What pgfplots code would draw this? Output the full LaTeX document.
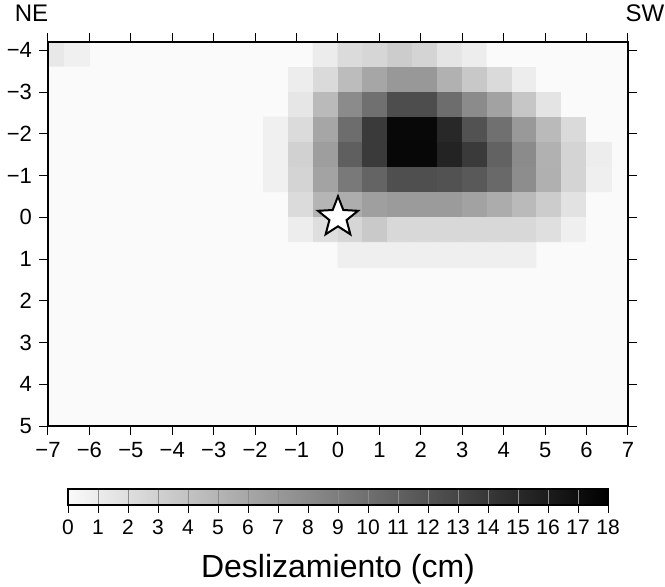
\documentclass[border=0pt]{standalone}
\usepackage{fontspec}
\setmainfont{Liberation Sans}
\usepackage{pgfplots}
\pgfplotsset{compat=1.18}
\usepackage{pgfplotstable}
\pgfplotsset{/pgf/number format/assume math mode=true}

\pgfdeclareplotmark{fivestar}{%
  \pgfpathmoveto{\pgfpointpolar{90}{\pgfplotmarksize}}%
  \pgfpathlineto{\pgfpointpolar{126}{0.43\pgfplotmarksize}}%
  \pgfpathlineto{\pgfpointpolar{162}{\pgfplotmarksize}}%
  \pgfpathlineto{\pgfpointpolar{198}{0.43\pgfplotmarksize}}%
  \pgfpathlineto{\pgfpointpolar{234}{\pgfplotmarksize}}%
  \pgfpathlineto{\pgfpointpolar{270}{0.43\pgfplotmarksize}}%
  \pgfpathlineto{\pgfpointpolar{306}{\pgfplotmarksize}}%
  \pgfpathlineto{\pgfpointpolar{342}{0.43\pgfplotmarksize}}%
  \pgfpathlineto{\pgfpointpolar{18}{\pgfplotmarksize}}%
  \pgfpathlineto{\pgfpointpolar{54}{0.43\pgfplotmarksize}}%
  \pgfpathclose
  \pgfusepathqfillstroke
}

% slip (cm) on 0.6 x 0.6 cells; x,y = cell centres
\pgfplotstableread{
x y z
-1.5 -3.9 0
-0.9 -3.9 0
-0.3 -3.9 1.0
0.3 -3.9 2.2
0.9 -3.9 2.6
1.5 -3.9 3.3
2.1 -3.9 2.7
2.7 -3.9 1.5
3.3 -3.9 0.9
3.9 -3.9 0
4.5 -3.9 0
5.1 -3.9 0
5.7 -3.9 0
6.3 -3.9 0
-1.5 -3.3 0
-0.9 -3.3 0.9
-0.3 -3.3 2.3
0.3 -3.3 4.4
0.9 -3.3 6.0
1.5 -3.3 7.0
2.1 -3.3 7.0
2.7 -3.3 5.2
3.3 -3.3 3.6
3.9 -3.3 2.3
4.5 -3.3 0.9
5.1 -3.3 0
5.7 -3.3 0
6.3 -3.3 0
-1.5 -2.7 0
-0.9 -2.7 1.4
-0.3 -2.7 4.6
0.3 -2.7 7.9
0.9 -2.7 9.9
1.5 -2.7 12.4
2.1 -2.7 12.4
2.7 -2.7 10.1
3.3 -2.7 7.9
3.9 -2.7 6.3
4.5 -2.7 3.7
5.1 -2.7 1.6
5.7 -2.7 0
6.3 -2.7 0
-1.5 -2.1 0.7
-0.9 -2.1 2.2
-0.3 -2.1 6.0
0.3 -2.1 10.1
0.9 -2.1 13.7
1.5 -2.1 17.3
2.1 -2.1 17.3
2.7 -2.1 15.0
3.3 -2.1 12.0
3.9 -2.1 9.9
4.5 -2.1 6.9
5.1 -2.1 4.6
5.7 -2.1 2.3
6.3 -2.1 0
-1.5 -1.5 0.7
-0.9 -1.5 2.9
-0.3 -1.5 6.6
0.3 -1.5 11.1
0.9 -1.5 13.7
1.5 -1.5 17.4
2.1 -1.5 17.4
2.7 -1.5 15.4
3.3 -1.5 13.7
3.9 -1.5 10.9
4.5 -1.5 7.9
5.1 -1.5 5.2
5.7 -1.5 2.7
6.3 -1.5 0.9
-1.5 -0.9 0.7
-0.9 -0.9 2.7
-0.3 -0.9 6.2
0.3 -0.9 9.2
0.9 -0.9 10.7
1.5 -0.9 12.2
2.1 -0.9 12.2
2.7 -0.9 12.0
3.3 -0.9 11.5
3.9 -0.9 10.4
4.5 -0.9 7.8
5.1 -0.9 5.3
5.7 -0.9 2.7
6.3 -0.9 0.8
-1.5 -0.3 0
-0.9 -0.3 2.2
-0.3 -0.3 4.9
0.3 -0.3 5.5
0.9 -0.3 6.5
1.5 -0.3 6.8
2.1 -0.3 6.8
2.7 -0.3 6.8
3.3 -0.3 6.3
3.9 -0.3 5.6
4.5 -0.3 4.6
5.1 -0.3 3.3
5.7 -0.3 1.7
6.3 -0.3 0
-1.5 0.3 0
-0.9 0.3 0.9
-0.3 0.3 2.0
0.3 0.3 2.6
0.9 0.3 3.5
1.5 0.3 2.4
2.1 0.3 2.4
2.7 0.3 2.4
3.3 0.3 2.4
3.9 0.3 2.4
4.5 0.3 2.4
5.1 0.3 1.9
5.7 0.3 0.8
6.3 0.3 0
-1.5 0.9 0
-0.9 0.9 0
-0.3 0.9 0
0.3 0.9 0.8
0.9 0.9 0.8
1.5 0.9 0.8
2.1 0.9 0.8
2.7 0.9 0.8
3.3 0.9 0.8
3.9 0.9 0.8
4.5 0.9 0.8
5.1 0.9 0
5.7 0.9 0
6.3 0.9 0
}\slipmain

\pgfplotstableread{
x y z
-6.9 -3.9 1.3
-6.3 -3.9 0.7
-6.9 -3.3 0
-6.3 -3.3 0
}\slipcorner

\begin{document}
\begin{tikzpicture}
\useasboundingbox (0,0) rectangle (332.5pt,-293.5pt);
\begin{axis}[
  at={(24pt,-21pt)}, anchor=north west,
  scale only axis, width=290pt, height=192pt,
  xmin=-7, xmax=7, ymin=-4.2, ymax=5,
  y dir=reverse,
  axis background/.style={fill={rgb,255:red,250;green,250;blue,250}},
  xtick={-7,-6,...,7},
  xticklabels={−7,−6,−5,−4,−3,−2,−1,0,1,2,3,4,5,6,7},
  ytick={-4,-3,...,5},
  yticklabels={−4,−3,−2,−1,0,1,2,3,4,5},
  tick align=outside, tick pos=both,
  xticklabel pos=lower, yticklabel pos=left,
  major tick length=4.5pt,
  tick style={black, line width=0.5pt},
  axis line style={black, line width=1pt},
  tick label style={font=\fontsize{11}{13}\selectfont},
  colormap={slip}{rgb255=(250,250,250) rgb255=(0,0,0)},
  point meta min=0, point meta max=18,
  axis on top,
  colorbar horizontal,
  colorbar style={
    at={(0.0345,-0.164)}, anchor=north west,
    scale only axis, width=270pt, height=8pt,
    xtick={0,1,...,18},
    xtick pos=lower, xticklabel pos=lower,
    xtick align=outside,
    major tick length=4pt,
    tick style={black, line width=0.4pt},
    xmajorgrids, major grid style={black!45, line width=0.4pt},
    axis on top,
    axis line style={black, line width=0.8pt},
    tick label style={font=\fontsize{10.5}{12}\selectfont},
    xlabel={Deslizamiento (cm)},
    xlabel style={font=\fontsize{16}{19}\selectfont, yshift=-3pt},
  },
]
\addplot[matrix plot*, mesh/cols=14, point meta=explicit] table[x=x, y=y, meta=z] {\slipmain};
\addplot[matrix plot*, mesh/cols=2, point meta=explicit] table[x=x, y=y, meta=z] {\slipcorner};
\addplot[only marks, mark=fivestar, mark size=10.5pt,
  mark options={fill=white, draw=black, line width=1pt}] coordinates {(0,0)};
\end{axis}
\node[font=\fontsize{12}{14}\selectfont] at (15.75pt,-6.75pt) {NE};
\node[font=\fontsize{12}{14}\selectfont] at (322.5pt,-6.75pt) {SW};
\end{tikzpicture}
\end{document}
